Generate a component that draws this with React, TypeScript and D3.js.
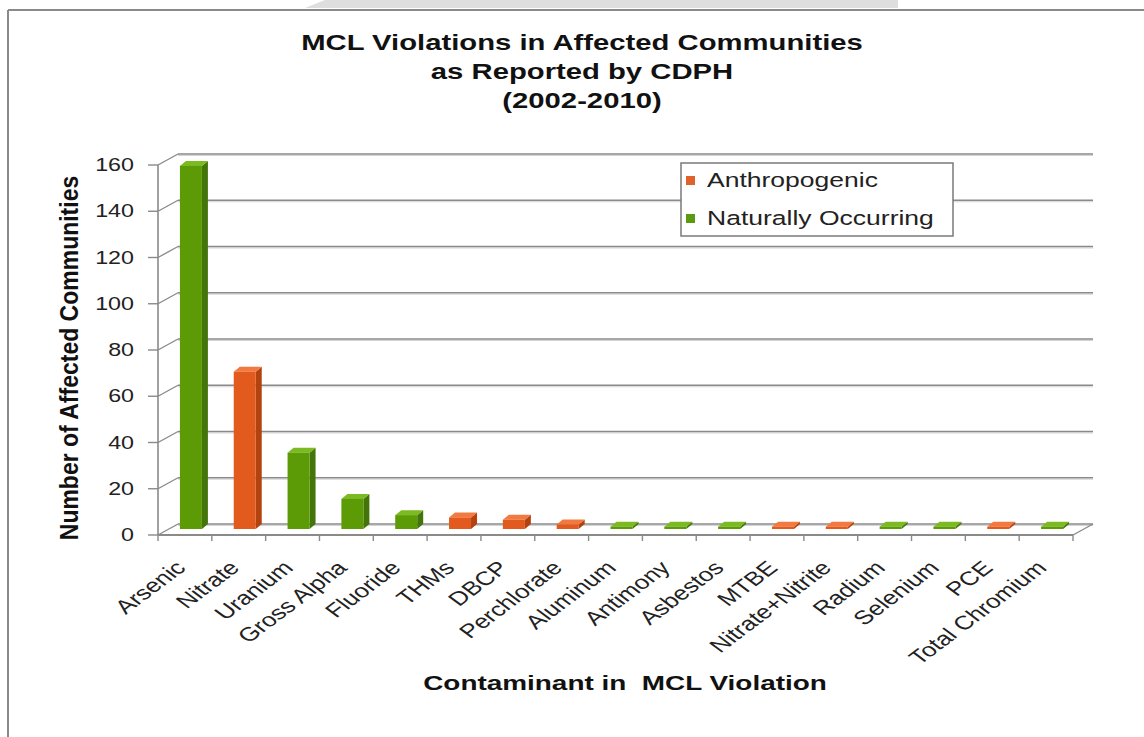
import React from "react";
import * as d3 from "d3";

const categories = ["Arsenic","Nitrate","Uranium","Gross Alpha","Fluoride","THMs","DBCP","Perchlorate","Aluminum","Antimony","Asbestos","MTBE","Nitrate+Nitrite","Radium","Selenium","PCE","Total Chromium"];
const values = [157, 68, 33, 13, 6, 5, 4, 2, 1, 1, 1, 1, 1, 1, 1, 1, 1];
const types = ["N","A","N","N","N","A","A","A","N","N","N","A","A","N","N","A","N"];
const yTicks = [0, 20, 40, 60, 80, 100, 120, 140, 160];
const legendItems = [{ key: "A", label: "Anthropogenic" }, { key: "N", label: "Naturally Occurring" }];
const titleLines = ["MCL Violations in Affected Communities", "as Reported by CDPH", "(2002-2010)"];

const COLORS: Record<string, { front: string; side: string; top: string; legend: string }> = {
  A: { front: "#e35a1f", side: "#b2430f", top: "#f27a40", legend: "#e0622b" },
  N: { front: "#5c9b06", side: "#44750a", top: "#7cba22", legend: "#5a9a10" },
};

const FONT = "Liberation Sans, Arial, sans-serif";
const SX = 1.33;

export default function App() {
  const x0 = 158, x1 = 1073;
  const DX = 20, DY = -11;
  const y = d3.scaleLinear().domain([0, 160]).range([535, 165]);
  const x = d3.scaleBand().domain(categories).range([x0, x1]).paddingInner(0).paddingOuter(0);
  const bw = 22, bdx = 6, bdy = -5;
  const offX = 6, offY = -6;
  const gridColor = "#8a8a8a";
  const titleY = [50, 79, 108];

  return (
    <svg width={1144} height={737} style={{ position: "absolute", left: 0, top: 0 }}>
      <rect x={0} y={0} width={1144} height={737} fill="#fff" />
      <polygon points="325,0 898,0 898,8 305,8" fill="#dedede" />
      <line x1={8} y1={10} x2={1144} y2={10} stroke="#8a8a8a" strokeWidth={2} />
      <line x1={8} y1={10} x2={8} y2={737} stroke="#8a8a8a" strokeWidth={2} />

      {titleLines.map((t, i) => (
        <text key={i} transform={`translate(582,${titleY[i]}) scale(${SX},1)`} textAnchor="middle" fontFamily={FONT} fontWeight="bold" fontSize={22} fill="#111">{t}</text>
      ))}

      {/* back wall gridlines */}
      {yTicks.map((t) => (
        <g key={t}>
          <line x1={x0 + DX} y1={y(t) + DY + 1.5} x2={x1 + DX} y2={y(t) + DY + 1.5} stroke="#d4d4d4" strokeWidth={1.2} />
          <line x1={x0 + DX} y1={y(t) + DY} x2={x1 + DX} y2={y(t) + DY} stroke={gridColor} strokeWidth={1.5} />
          <line x1={x0 - 10} y1={y(t)} x2={x0} y2={y(t)} stroke={gridColor} strokeWidth={1.4} />
          <line x1={x0} y1={y(t)} x2={x0 + DX} y2={y(t) + DY} stroke={gridColor} strokeWidth={1.4} />
          <text transform={`translate(134,${y(t) + 6}) scale(${SX},1)`} textAnchor="end" fontFamily={FONT} fontSize={17.5} fill="#222">{t}</text>
        </g>
      ))}
      {/* floor */}
      <line x1={x0} y1={y(0)} x2={x1} y2={y(0)} stroke={gridColor} strokeWidth={1.8} />
      <line x1={x1} y1={y(0)} x2={x1 + DX} y2={y(0) + DY} stroke={gridColor} strokeWidth={1.4} />
      <line x1={x0} y1={y(160)} x2={x0} y2={y(0)} stroke={gridColor} strokeWidth={1.6} />
      {d3.range(categories.length + 1).map((i) => {
        const xx = x0 + i * x.bandwidth();
        return <line key={i} x1={xx} y1={y(0)} x2={xx} y2={y(0) + 6} stroke={gridColor} strokeWidth={1.4} />;
      })}

      {/* bars */}
      {categories.map((c, i) => {
        const col = COLORS[types[i]];
        const cx = (x(c) as number) + x.bandwidth() / 2 + offX;
        const left = cx - bw / 2, right = cx + bw / 2;
        const bottom = y(0) + offY, top = y(values[i]) + offY;
        return (
          <g key={c}>
            <polygon points={`${right},${bottom} ${right + bdx},${bottom + bdy} ${right + bdx},${top + bdy} ${right},${top}`} fill={col.side} />
            <polygon points={`${left},${top} ${right},${top} ${right + bdx},${top + bdy} ${left + bdx},${top + bdy}`} fill={col.top} />
            <rect x={left} y={top} width={bw} height={bottom - top} fill={col.front} />
          </g>
        );
      })}

      {/* x labels */}
      {categories.map((c) => {
        const cx = (x(c) as number) + x.bandwidth() / 2 + 2;
        const cy = 569;
        return (
          <text key={c} transform={`translate(${cx},${cy}) scale(${SX},1) rotate(-45)`} textAnchor="end" fontFamily={FONT} fontSize={19.5} fill="#222">{c}</text>
        );
      })}

      {/* axis titles */}
      <text transform="translate(78,358) scale(1.12,1) rotate(-90)" textAnchor="middle" fontFamily={FONT} fontWeight="bold" fontSize={23} fill="#111">Number of Affected Communities</text>
      <text transform={`translate(625,690) scale(${SX},1)`} textAnchor="middle" fontFamily={FONT} fontWeight="bold" fontSize={21} fill="#111" xmlSpace="preserve">Contaminant in  MCL Violation</text>

      {/* legend */}
      <rect x={681} y={163} width={272} height={73} fill="#fff" stroke="#7a7a7a" strokeWidth={1.5} />
      {legendItems.map((it, i) => (
        <g key={it.key}>
          <rect x={686} y={176 + i * 38} width={9} height={9} fill={COLORS[it.key].legend} />
          <text transform={`translate(707,${187 + i * 38}) scale(1.36,1)`} fontFamily={FONT} fontSize={19.5} fill="#222">{it.label}</text>
        </g>
      ))}
    </svg>
  );
}
